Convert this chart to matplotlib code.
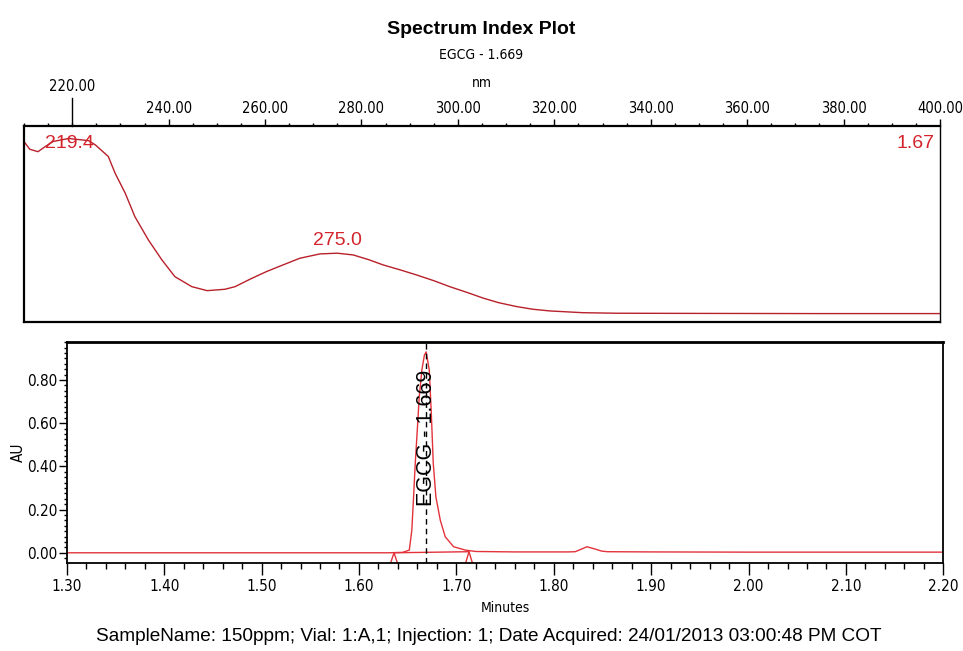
import numpy as np
import matplotlib.pyplot as plt
from matplotlib.ticker import MultipleLocator, FormatStrFormatter
import matplotlib.transforms as mtransforms

# spectrum of the EGCG peak (normalised absorbance vs wavelength)
wavelength = [210.0, 211.2, 212.9, 214.4, 216.0, 218.0, 219.4, 220.3, 221.8, 223.4,
              224.8, 226.5, 227.5, 228.9, 231.0, 233.0, 235.8, 238.6, 241.3, 244.8,
              248.0, 251.7, 253.8, 257.0, 260.3, 264.0, 267.2, 271.4, 275.0, 278.3,
              281.5, 284.5, 288.0, 291.4, 295.0, 298.3, 302.0, 305.3, 308.5, 312.2,
              315.5, 319.1, 326.0, 333.0, 350.0, 375.0, 400.0]
absorb = [0.985, 0.941, 0.927, 0.956, 0.985, 0.996, 1.003, 0.999, 0.995, 0.990,
          0.966, 0.924, 0.899, 0.804, 0.690, 0.556, 0.423, 0.309, 0.213, 0.156,
          0.133, 0.141, 0.156, 0.200, 0.242, 0.283, 0.318, 0.343, 0.347, 0.337,
          0.310, 0.280, 0.252, 0.223, 0.190, 0.156, 0.122, 0.090, 0.064, 0.042,
          0.027, 0.017, 0.007, 0.004, 0.003, 0.002, 0.002]
spec_maxima = [219.4, 275.0]
spec_rt = "1.67"

# chromatogram
minutes = [1.300, 1.500, 1.630, 1.645, 1.6517, 1.6543, 1.6561, 1.6578, 1.6599, 1.6619,
           1.6646, 1.6672, 1.669, 1.6722, 1.6743, 1.6763, 1.679, 1.6835, 1.6886, 1.6972,
           1.7092, 1.720, 1.760, 1.815, 1.822, 1.829, 1.834, 1.842, 1.849, 1.855,
           1.900, 2.000, 2.200]
au = [0.000, 0.000, 0.000, 0.002, 0.0125, 0.105, 0.260, 0.414, 0.568, 0.722,
      0.846, 0.915, 0.930, 0.846, 0.645, 0.414, 0.259, 0.151, 0.074, 0.028,
      0.0125, 0.006, 0.004, 0.004, 0.005, 0.018, 0.028, 0.018, 0.008, 0.005,
      0.004, 0.003, 0.003]
peak_name = "EGCG"
peak_rt = 1.669
peak_start, peak_end = 1.636, 1.713
base_start, base_end = 0.000, 0.005

plain = ['Liberation Sans', 'DejaVu Sans']
plt.rcParams['font.family'] = plain
tickfont = dict(family='DejaVu Sans', stretch='condensed')
red = '#d3242c'

fig = plt.figure(figsize=(9.63, 6.51), dpi=100)

# ---- spectrum panel ----
ax1 = fig.add_axes([0.0249, 0.5054, 0.9512, 0.3011])
ax1.plot(wavelength, absorb, color='#b8202a', lw=1.0)
ax1.set_xlim(210, 400)
ax1.set_ylim(-0.046, 1.074)
ax1.xaxis.tick_top()
ax1.set_yticks([])
ax1.set_xticks(np.arange(240, 401, 20))
ax1.xaxis.set_minor_locator(MultipleLocator(5))
ax1.xaxis.set_major_formatter(FormatStrFormatter('%.2f'))
ax1.tick_params(axis='x', which='major', direction='out', length=5, width=1,
                labelsize=10.5, pad=2)
ax1.tick_params(axis='x', which='minor', direction='out', length=2.5, width=1)
for lab in ax1.get_xticklabels():
    lab.set_fontstretch('condensed')
    lab.set_family('DejaVu Sans')
for s in ['top', 'left', 'bottom']:
    ax1.spines[s].set_linewidth(1.6)
ax1.spines['right'].set_linewidth(1.0)

# the 220 tick is drawn long with its label raised
tr = mtransforms.blended_transform_factory(ax1.transData, ax1.transAxes)
ax1.plot([220, 220], [1.0, 1.145], color='black', lw=1, transform=tr, clip_on=False)
ax1.text(220, 1.165, '220.00', transform=tr, ha='center', va='bottom', fontsize=10.5,
         **tickfont)
fig.text(0.5, 0.8725, 'nm', ha='center', va='center', fontsize=10, **tickfont)

spec = dict(zip(wavelength, absorb))
ax1.annotate(f'{spec_maxima[0]:.1f}', (spec_maxima[0], spec[spec_maxima[0]]),
             xytext=(0, -3.5), textcoords='offset points', ha='center', va='center',
             color=red, fontsize=14)
ax1.annotate(f'{spec_maxima[1]:.1f}', (spec_maxima[1], spec[spec_maxima[1]]),
             xytext=(0, 3), textcoords='offset points', ha='center', va='bottom',
             color=red, fontsize=14)
ax1.text(0.9945, 0.913, spec_rt, transform=ax1.transAxes, ha='right', va='center',
         color=red, fontsize=14)

# ---- chromatogram panel ----
ax2 = fig.add_axes([0.0693, 0.1356, 0.9103, 0.3395])
ax2.plot(minutes, au, color='#e2333b', lw=1.0)
ax2.set_xlim(1.30, 2.20)
ax2.set_ylim(-0.046, 0.977)

# integration baseline and start/end markers
ax2.plot([peak_start, peak_end], [base_start, base_end], color='#e2333b', lw=1.0)
ybot = ax2.get_ylim()[0]
for t, b in [(peak_start, base_start), (peak_end, base_end)]:
    ax2.plot([t - 0.0034, t, t + 0.0034], [ybot, b, ybot], color='#e2333b', lw=1.0)

ax2.axvline(peak_rt, color='black', lw=1.0, ls=(0, (4, 3)))
ax2.text(peak_rt, 0.53, f'{peak_name} - {peak_rt:.3f}', rotation=90, ha='center',
         va='center', fontsize=15.5)

ax2.xaxis.set_major_locator(MultipleLocator(0.1))
ax2.xaxis.set_minor_locator(MultipleLocator(0.02))
ax2.set_yticks([0.0, 0.2, 0.4, 0.6, 0.8])
ax2.yaxis.set_minor_locator(MultipleLocator(0.025))
ax2.xaxis.set_major_formatter(FormatStrFormatter('%.2f'))
ax2.yaxis.set_major_formatter(FormatStrFormatter('%.2f'))
ax2.tick_params(axis='x', which='major', direction='out', length=8.5, width=1,
                labelsize=11, pad=3)
ax2.tick_params(axis='x', which='minor', direction='out', length=4.3, width=1)
ax2.tick_params(axis='y', which='major', direction='out', length=6, width=1,
                labelsize=11, pad=0.5)
ax2.tick_params(axis='y', which='minor', direction='out', length=2.5, width=1)
for lab in ax2.get_xticklabels() + ax2.get_yticklabels():
    lab.set_fontstretch('condensed')
    lab.set_family('DejaVu Sans')
ax2.set_xlabel('Minutes', fontsize=10, labelpad=5, **tickfont)
ax2.set_ylabel('AU', fontsize=11, **tickfont)
ax2.yaxis.set_label_coords(-0.047, 0.5)
ax2.spines['top'].set_linewidth(2.0)
for s in ['left', 'bottom', 'right']:
    ax2.spines[s].set_linewidth(1.3)

fig.text(0.5, 0.955, 'Spectrum Index Plot', ha='center', va='center',
         fontsize=14, fontweight='bold')
fig.text(0.5, 0.9155, f'{peak_name} - {peak_rt:.3f}', ha='center', va='center',
         fontsize=10, **tickfont)
fig.text(0.508, 0.023, 'SampleName: 150ppm; Vial: 1:A,1; Injection: 1; '
         'Date Acquired: 24/01/2013 03:00:48 PM COT', ha='center', va='center',
         fontsize=13.7)

fig.savefig('out.png', dpi=100)
